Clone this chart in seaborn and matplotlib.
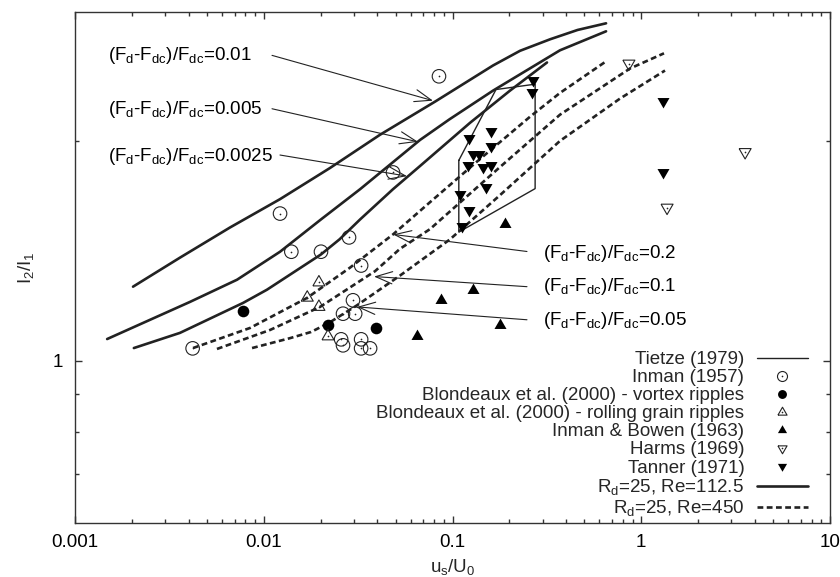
import matplotlib
matplotlib.use("Agg")
import matplotlib.pyplot as plt
import seaborn as sns
import numpy as np
from matplotlib.lines import Line2D
from matplotlib.legend_handler import HandlerTuple
from matplotlib.ticker import LogLocator, NullFormatter

# ---- model curves, R_d = 25, Re = 112.5 (solid) ----
re112_001_x = [0.00203, 0.0036, 0.00663, 0.0122, 0.0224, 0.0413, 0.0808, 0.164, 0.228, 0.329, 0.460, 0.651]
re112_001_y = [1.263, 1.384, 1.522, 1.664, 1.835, 2.038, 2.262, 2.535, 2.655, 2.753, 2.835, 2.895]
re112_0005_x = [0.00148, 0.0025, 0.00407, 0.00722, 0.0122, 0.0201, 0.0324, 0.0673, 0.0965, 0.164, 0.371, 0.651]
re112_0005_y = [1.071, 1.138, 1.204, 1.291, 1.410, 1.561, 1.717, 2.005, 2.140, 2.342, 2.659, 2.823]
re112_00025_x = [0.00205, 0.0036, 0.00777, 0.0104, 0.0201, 0.0252, 0.0324, 0.0484, 0.0673, 0.1238, 0.2017, 0.3167]
re112_00025_y = [1.041, 1.092, 1.200, 1.251, 1.398, 1.466, 1.561, 1.717, 1.847, 2.116, 2.342, 2.559]

# ---- model curves, R_d = 25, Re = 450 (dashed) ----
re450_02_x = [0.00422, 0.00846, 0.01695, 0.02864, 0.0484, 0.076, 0.1398, 0.2574, 0.3711, 0.6506]
re450_02_y = [1.041, 1.109, 1.219, 1.341, 1.489, 1.648, 1.888, 2.157, 2.325, 2.568]
re450_01_x = [0.00565, 0.0108, 0.01986, 0.03884, 0.0527, 0.076, 0.1785, 0.3711, 0.8717, 1.3197]
re450_01_y = [1.038, 1.102, 1.185, 1.326, 1.423, 1.514, 1.841, 2.171, 2.511, 2.634]
re450_005_x = [0.00867, 0.01378, 0.0178, 0.02217, 0.03119, 0.05272, 0.097, 0.1785, 0.3711, 0.7717, 1.336]
re450_005_y = [1.041, 1.074, 1.095, 1.127, 1.191, 1.308, 1.466, 1.685, 1.999, 2.284, 2.495]

# ---- field / laboratory data ----
tietze_x = [0.108, 0.170, 0.274, 0.274, 0.108, 0.108]
tietze_y = [1.88, 2.35, 2.39, 1.72, 1.50, 1.88]
inman_x = [0.0122, 0.0140, 0.0201, 0.0283, 0.0484, 0.0328, 0.0042, 0.0297,
           0.0263, 0.0305, 0.0257, 0.0263, 0.0328, 0.0328, 0.0366, 0.0848]
inman_y = [1.59, 1.41, 1.41, 1.475, 1.81, 1.35, 1.04, 1.21,
           1.16, 1.16, 1.07, 1.05, 1.07, 1.04, 1.04, 2.45]
vortex_x = [0.0078, 0.0219, 0.0393]
vortex_y = [1.17, 1.12, 1.11]
rolling_x = [0.0196, 0.0170, 0.0196, 0.0219]
rolling_y = [1.28, 1.22, 1.185, 1.08]
bowen_x = [0.190, 0.128, 0.087, 0.179, 0.065]
bowen_y = [1.54, 1.25, 1.21, 1.12, 1.08]
harms_x = [0.86, 3.55, 1.37]
harms_y = [2.55, 1.93, 1.62]
tanner_x = [0.267, 0.264, 0.122, 0.160, 0.160, 0.128, 0.138, 0.121,
            0.145, 0.160, 0.150, 0.110, 0.122, 0.112, 1.30, 1.30]
tanner_y = [2.42, 2.33, 2.02, 2.06, 1.97, 1.92, 1.92, 1.85,
            1.84, 1.85, 1.73, 1.69, 1.61, 1.53, 2.27, 1.81]

# ---- annotations ----
ratio_values = ["0.01", "0.005", "0.0025", "0.2", "0.1", "0.05"]
label_pos = [(0.0015, 2.576), (0.0015, 2.178), (0.0015, 1.877),
             (0.3016, 1.384), (0.3016, 1.245), (0.3016, 1.120)]
arrow_from = [(0.01106, 2.617), (0.01106, 2.212), (0.01219, 1.912),
              (0.2481, 1.411), (0.2481, 1.263), (0.2481, 1.138)]
arrow_to = [(0.0788, 2.269), (0.0657, 1.993), (0.0574, 1.789),
            (0.0484, 1.489), (0.0384, 1.304), (0.0312, 1.185)]

x_ticks = [0.001, 0.01, 0.1, 1, 10]
x_ticklabels = ["0.001", "0.01", "0.1", "1", "10"]
y_ticks = [1]
y_ticklabels = ["1"]
y_minor = [0.7, 0.8, 0.9, 2]

legend_labels = ["Tietze (1979)", "Inman (1957)",
                 "Blondeaux et al. (2000) - vortex ripples",
                 "Blondeaux et al. (2000) - rolling grain ripples",
                 "Inman & Bowen (1963)", "Harms (1969)", "Tanner (1971)",
                 r"R$\mathregular{_d}$=25, Re=112.5", r"R$\mathregular{_d}$=25, Re=450"]

sns.set_theme(style="ticks")
plt.rcParams["font.family"] = ["Liberation Sans", "DejaVu Sans"]
plt.rcParams["mathtext.fontset"] = "custom"
plt.rcParams["mathtext.rm"] = "Liberation Sans"

FS = 13.5
INK = "#222222"
DASH = (0, (2.2, 1.3))

# closed equilateral triangle markers
tri_up = [(-1, -0.577), (1, -0.577), (0, 1.155), (-1, -0.577)]
tri_dn = [(-1, 0.577), (1, 0.577), (0, -1.155), (-1, 0.577)]

fig = plt.figure(figsize=(8.4, 5.77), dpi=100)
ax = fig.add_axes([75 / 840, 54 / 577, 755 / 840, 511 / 577])
ax.set_xscale("log")
ax.set_yscale("log")
ax.set_xlim(0.001, 10)
ax.set_ylim(0.6, 3)

solid_curves = [(re112_001_x, re112_001_y), (re112_0005_x, re112_0005_y),
                (re112_00025_x, re112_00025_y)]
dashed_curves = [(re450_02_x, re450_02_y), (re450_01_x, re450_01_y),
                 (re450_005_x, re450_005_y)]
for cx, cy in solid_curves:
    sns.lineplot(x=cx, y=cy, ax=ax, color=INK, linewidth=1.9,
                 sort=False, estimator=None)
for cx, cy in dashed_curves:
    sns.lineplot(x=cx, y=cy, ax=ax, color=INK, linewidth=1.9,
                 linestyle=DASH, sort=False, estimator=None)

# Tietze envelope
sns.lineplot(x=tietze_x, y=tietze_y, ax=ax, color=INK, linewidth=1.0,
             sort=False, estimator=None)

def open_points(xs, ys, marker, size):
    sns.scatterplot(x=xs, y=ys, ax=ax, marker=marker, s=size,
                    facecolor="none", edgecolor=INK, linewidth=0.8, zorder=4)
    sns.scatterplot(x=xs, y=ys, ax=ax, marker="o", s=1.5,
                    color=INK, linewidth=0, zorder=4)

def filled_points(xs, ys, marker, size):
    sns.scatterplot(x=xs, y=ys, ax=ax, marker=marker, s=size,
                    color="black", linewidth=0, zorder=4)

open_points(inman_x, inman_y, "o", 95)
filled_points(vortex_x, vortex_y, "o", 70)
open_points(rolling_x, rolling_y, tri_up, 100)
filled_points(bowen_x, bowen_y, tri_up, 100)
open_points(harms_x, harms_y, tri_dn, 100)
filled_points(tanner_x, tanner_y, tri_dn, 100)

# ratio labels and arrows
for val, (lx, ly), p0, p1 in zip(ratio_values, label_pos, arrow_from, arrow_to):
    ax.text(lx, ly,
            r"(F$\mathregular{_d}$-F$\mathregular{_{dc}}$)/F$\mathregular{_{dc}}$=" + val,
            fontsize=FS, ha="left", va="baseline", color="black")
    ax.annotate("", xy=p1, xytext=p0, xycoords="data", textcoords="data",
                arrowprops=dict(arrowstyle="->,head_length=0.6,head_width=0.22",
                                lw=0.8, color=INK, shrinkA=0, shrinkB=0,
                                mutation_scale=20))

# axes styling
ax.set_xticks(x_ticks)
ax.set_xticklabels(x_ticklabels)
ax.xaxis.set_minor_locator(LogLocator(base=10, subs=np.arange(2, 10)))
ax.xaxis.set_minor_formatter(NullFormatter())
ax.set_yticks(y_ticks)
ax.set_yticklabels(y_ticklabels)
ax.set_yticks(y_minor, minor=True)
ax.yaxis.set_minor_formatter(NullFormatter())
ax.tick_params(which="both", direction="in", top=True, right=True,
               color="#333333", width=1.0, labelsize=FS, labelcolor="black")
ax.tick_params(which="major", length=5)
ax.tick_params(which="minor", length=3)
ax.tick_params(axis="x", pad=8)
ax.tick_params(axis="y", pad=9)
for sp in ax.spines.values():
    sp.set_color("#333333")
    sp.set_linewidth(1.0)

ax.set_xlabel(r"u$\mathregular{_s}$/U$\mathregular{_0}$", fontsize=FS)
ax.set_ylabel(r"I$\mathregular{_2}$/I$\mathregular{_1}$", fontsize=FS)
ax.xaxis.set_label_coords(0.5, -0.066)
ax.yaxis.set_label_coords(-0.052, 0.5)

# legend: text right-aligned, symbol on the right
def dotted(marker, ms):
    return (Line2D([], [], marker=marker, linestyle="none", markersize=ms,
                   markerfacecolor="none", markeredgecolor=INK, markeredgewidth=0.8),
            Line2D([], [], marker="o", linestyle="none", markersize=1.2,
                   markerfacecolor=INK, markeredgewidth=0))

handles = [
    Line2D([], [], color=INK, linewidth=1.0),
    dotted("o", 7.2),
    Line2D([], [], marker="o", linestyle="none", markersize=6.4,
           markerfacecolor="black", markeredgewidth=0),
    dotted(tri_up, 7.6),
    Line2D([], [], marker=tri_up, linestyle="none", markersize=7.6,
           markerfacecolor="black", markeredgewidth=0),
    dotted(tri_dn, 7.6),
    Line2D([], [], marker=tri_dn, linestyle="none", markersize=7.6,
           markerfacecolor="black", markeredgewidth=0),
    Line2D([], [], color=INK, linewidth=1.9),
    Line2D([], [], color=INK, linewidth=1.9, linestyle=DASH),
]
ax.legend(handles, legend_labels, loc="lower right",
          bbox_to_anchor=(0.971, 0.009), markerfirst=False, frameon=False,
          fontsize=FS, handlelength=2.75, handletextpad=0.65,
          labelspacing=0.05, borderpad=0, borderaxespad=0,
          handler_map={tuple: HandlerTuple(ndivide=1)})

fig.savefig("out.png", dpi=100)
